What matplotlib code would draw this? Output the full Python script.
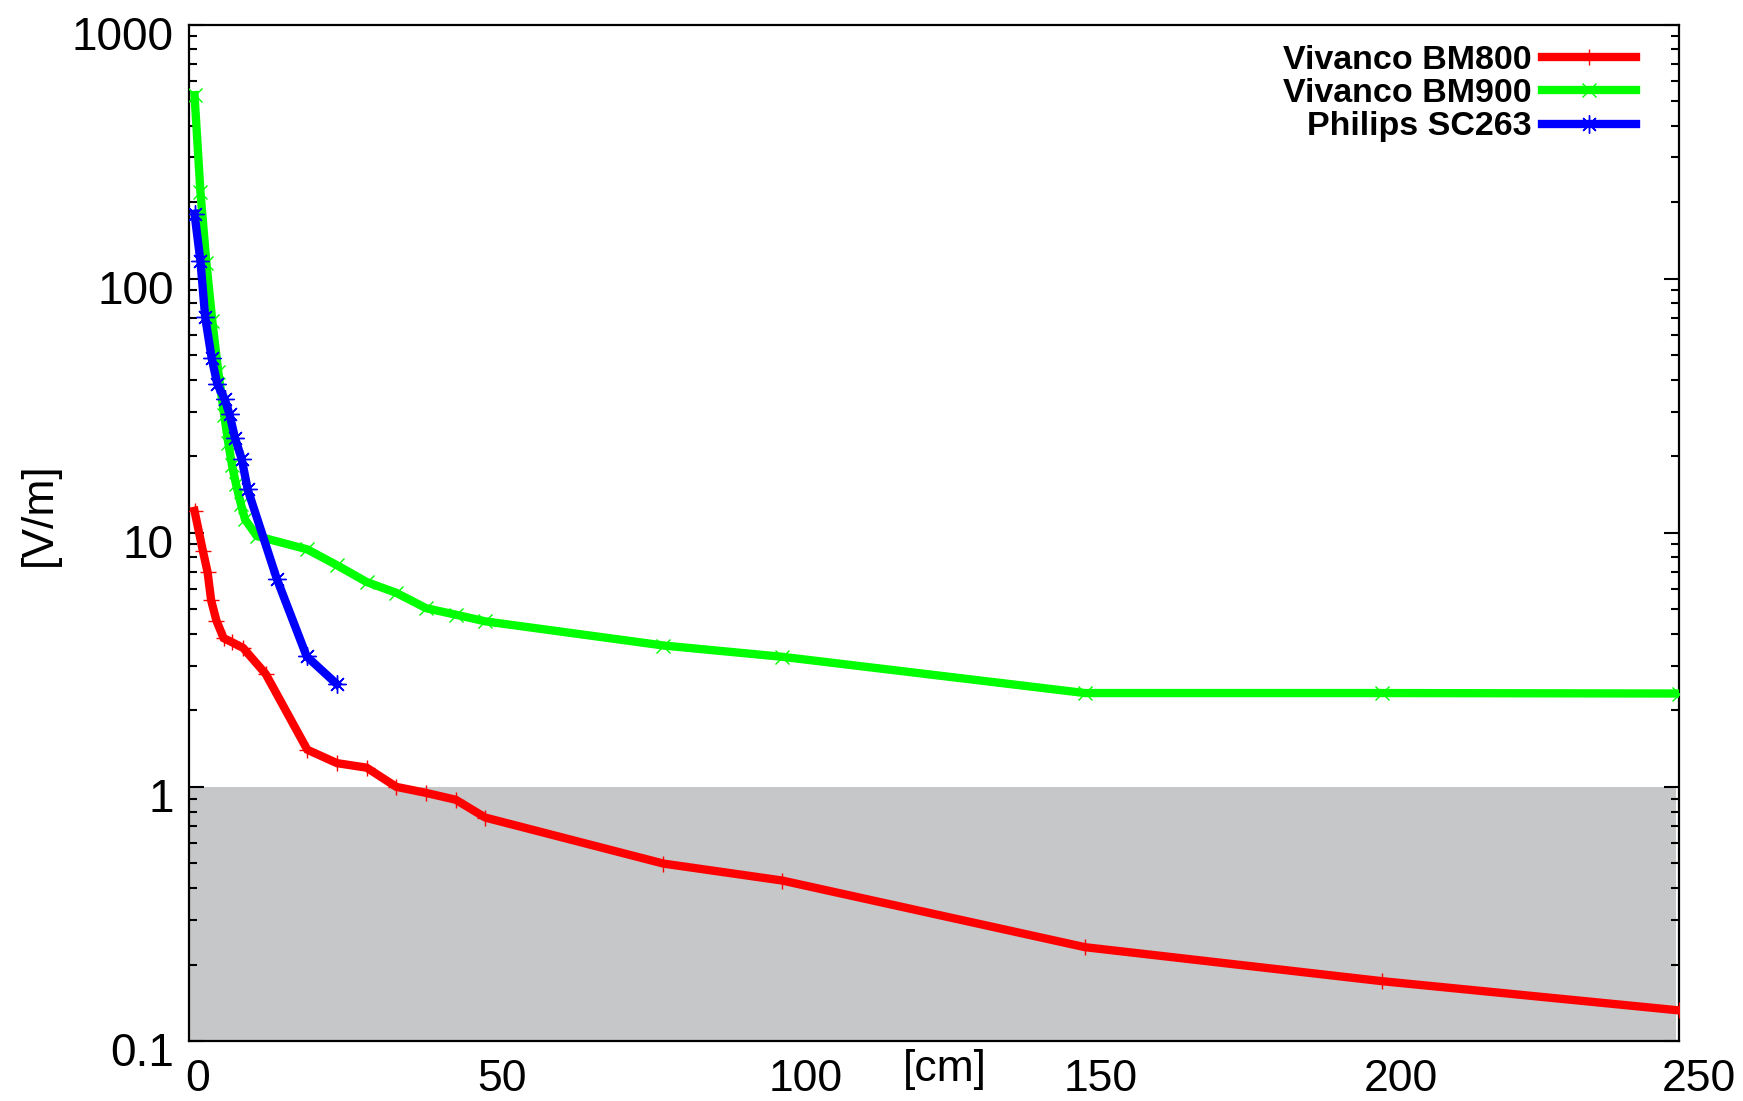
import matplotlib
matplotlib.use("Agg")
import matplotlib.pyplot as plt
import matplotlib.transforms as mtransforms
from matplotlib.ticker import LogLocator, NullFormatter, FixedLocator, FixedFormatter

# ---------------- data ----------------
red_x = [0, 1.4, 2.2, 2.8, 3.7, 4.9, 6.3, 8.2, 12, 19, 24, 29, 34, 39, 44, 49, 79, 99, 150, 200, 250]
red_y = [12.2, 8.5, 7.0, 5.42, 4.5, 3.85, 3.71, 3.52, 2.78, 1.40, 1.24, 1.19, 1.0, 0.947, 0.89,
         0.757, 0.499, 0.428, 0.234, 0.172, 0.132]

green_x = [0, 1, 2, 3, 4, 5, 5.7, 6.3, 7, 7.8, 8.5, 10.5, 19, 24, 29, 34, 39, 44, 49, 79, 99,
           150, 200, 250]
green_y = [527, 219, 115, 68, 43, 29, 22.5, 18.5, 15.5, 13, 11.3, 9.7, 8.6, 7.45, 6.4, 5.8, 5.05,
           4.76, 4.48, 3.6, 3.25, 2.34, 2.34, 2.33]

blue_x = [0, 1, 1.8, 2.9, 3.85, 5.1, 5.9, 6.8, 7.95, 8.96, 13.85, 18.9, 23.95]
blue_y = [180, 117, 70.4, 48.5, 38.4, 33.5, 29.2, 23.7, 19.5, 14.8, 6.6, 3.26, 2.54]

series_names = ["Vivanco BM800", "Vivanco BM900", "Philips SC263"]

x_ticks = [0, 50, 100, 150, 200, 250]
x_tick_labels = ["0", "50", "100", "150", "200", "250"]
y_ticks = [0.1, 1, 10, 100, 1000]
y_tick_labels = ["0.1", "1", "10", "100", "1000"]

limit_low, limit_high = 0.1, 1.0   # shaded band

# ---------------- figure ----------------
W, H = 1743, 1101
fig = plt.figure(figsize=(W / 100, H / 100), dpi=100)
ax = fig.add_axes([189 / W, 1 - 1041 / H, (1678.5 - 189) / W, (1041 - 24.5) / H])

font = "Liberation Sans"

ax.axhspan(limit_low * 1.01, limit_high, xmin=0, xmax=0.998, color="#c6c7c9", zorder=0, lw=0)

lw = 6.0
ax.plot(red_x, red_y, color="#ff0000", lw=lw, marker="+", ms=11, mew=1.0,
        label=series_names[0], zorder=3, solid_joinstyle="miter")
ax.plot(green_x, green_y, color="#00ff00", lw=lw, marker="x", ms=10, mew=1.0,
        label=series_names[1], zorder=4, solid_joinstyle="miter")
ax.plot(blue_x, blue_y, color="#0000ff", lw=lw, marker=(8, 2, 0), ms=13, mew=1.0,
        label=series_names[2], zorder=5, solid_joinstyle="miter")

ax.set_yscale("log")
ax.set_xlim(-0.93, 250)
ax.set_ylim(0.1, 1000)

ax.xaxis.set_major_locator(FixedLocator(x_ticks))
ax.xaxis.set_major_formatter(FixedFormatter(x_tick_labels))
ax.yaxis.set_major_locator(FixedLocator(y_ticks))
ax.yaxis.set_major_formatter(FixedFormatter(y_tick_labels))
ax.yaxis.set_minor_locator(LogLocator(base=10, subs=range(2, 10)))
ax.yaxis.set_minor_formatter(NullFormatter())

for s in ax.spines.values():
    s.set_linewidth(1.6)

ax.tick_params(axis="x", which="both", length=0, pad=13, labelsize=32)
ax.tick_params(axis="y", which="major", direction="in", length=11, width=1.5,
               left=True, right=True, pad=11, labelsize=33)
ax.tick_params(axis="y", which="minor", direction="in", length=5.5, width=1.5,
               left=True, right=True)

for lab in ax.get_xticklabels() + ax.get_yticklabels():
    lab.set_fontfamily(font)

# gnuplot-like label offsets
x_off = [3, 11, 18, 16, 19, 20]
for lab, dx in zip(ax.get_xticklabels(), x_off):
    lab.set_transform(lab.get_transform() +
                      mtransforms.ScaledTranslation(dx / 100, 0, fig.dpi_scale_trans))
for lab in ax.get_yticklabels():
    lab.set_transform(lab.get_transform() +
                      mtransforms.ScaledTranslation(0, -8 / 100, fig.dpi_scale_trans))

fig.text(945 / W, 1 - 1069 / H, "[cm]", ha="center", va="center", fontsize=32, family=font)
fig.text(39 / W, 1 - 514 / H, "[V/m]", ha="center", va="center", rotation=90,
         fontsize=32, family=font)

leg = ax.legend(loc="upper right", bbox_to_anchor=(0.9715, 0.9795), frameon=False,
                markerfirst=False, handlelength=2.75, handletextpad=0.32,
                borderpad=0, borderaxespad=0, labelspacing=0.06,
                prop={"family": font, "weight": "bold", "size": 24.5})
for t in leg.get_texts():
    t.set_ha("right")

fig.savefig("out.png", dpi=100)
